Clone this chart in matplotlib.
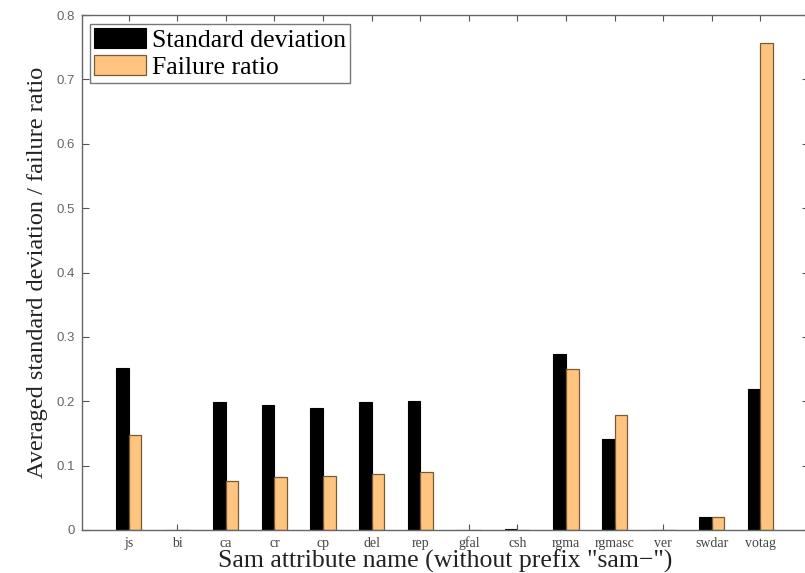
import matplotlib
matplotlib.use("Agg")
import matplotlib.pyplot as plt
import numpy as np

categories = ["js", "bi", "ca", "cr", "cp", "del", "rep", "gfal", "csh",
              "rgma", "rgmasc", "ver", "swdar", "votag"]
std_dev = [0.252, 0.0, 0.199, 0.194, 0.190, 0.199, 0.201, 0.0, 0.002,
           0.274, 0.142, 0.0, 0.020, 0.219]
failure_ratio = [0.147, 0.0, 0.076, 0.082, 0.084, 0.087, 0.090, 0.0, 0.0,
                 0.250, 0.178, 0.0, 0.020, 0.757]
yticks = [0, 0.1, 0.2, 0.3, 0.4, 0.5, 0.6, 0.7, 0.8]
ytick_labels = ["0", "0.1", "0.2", "0.3", "0.4", "0.5", "0.6", "0.7", "0.8"]

serif = ["Liberation Serif", "DejaVu Serif"]
plt.rcParams["font.family"] = serif

W, H = 805, 573
fig = plt.figure(figsize=(W / 100, H / 100), dpi=100)
left_px, right_px, top_px, bot_px = 81.5, 809.0, 15.0, 530.0
ax = fig.add_axes([left_px / W, (H - bot_px) / H,
                   (right_px - left_px) / W, (bot_px - top_px) / H])

x = np.arange(1, len(categories) + 1)
w = 0.26
ax.bar(x - w / 2, std_dev, width=w, color="black", edgecolor="black",
       linewidth=0.8, label="Standard deviation")
ax.bar(x + w / 2, failure_ratio, width=w, color="#FFC47F", edgecolor="#7a5a30",
       linewidth=0.9, label="Failure ratio")

ax.set_xlim(0.03, 15.0)
ax.set_ylim(0, 0.8)
ax.set_xticks(x)
ax.set_xticklabels(categories, fontsize=10, color="#444444")
for lab in ax.get_xticklabels():
    lab.set_verticalalignment("baseline")
ax.set_yticks(yticks)
ax.set_yticklabels(ytick_labels, fontsize=9.5, color="#666666",
                   family=["Liberation Sans", "DejaVu Sans"])
ax.tick_params(axis="x", direction="in", top=True, length=4, color="#555555",
               pad=12)
ax.tick_params(axis="y", direction="in", right=True, length=5, color="#555555",
               pad=5)
for s in ax.spines.values():
    s.set_color("#666666")
    s.set_linewidth(1.0)

ax.set_xlabel('Sam attribute name (without prefix "sam\u2212")', fontsize=18.5,
              labelpad=0, color="#222222")
ax.set_ylabel("Averaged standard deviation / failure ratio", fontsize=17.5,
              labelpad=6, color="#222222")

leg = ax.legend(loc="upper left", fontsize=18.5, frameon=True, fancybox=False,
                edgecolor="#555555", handlelength=2.0, handleheight=0.85,
                borderpad=0.15, labelspacing=0.1, handletextpad=0.25,
                borderaxespad=0.35)
leg.get_frame().set_linewidth(1.0)

fig.savefig("out.png", dpi=100)
